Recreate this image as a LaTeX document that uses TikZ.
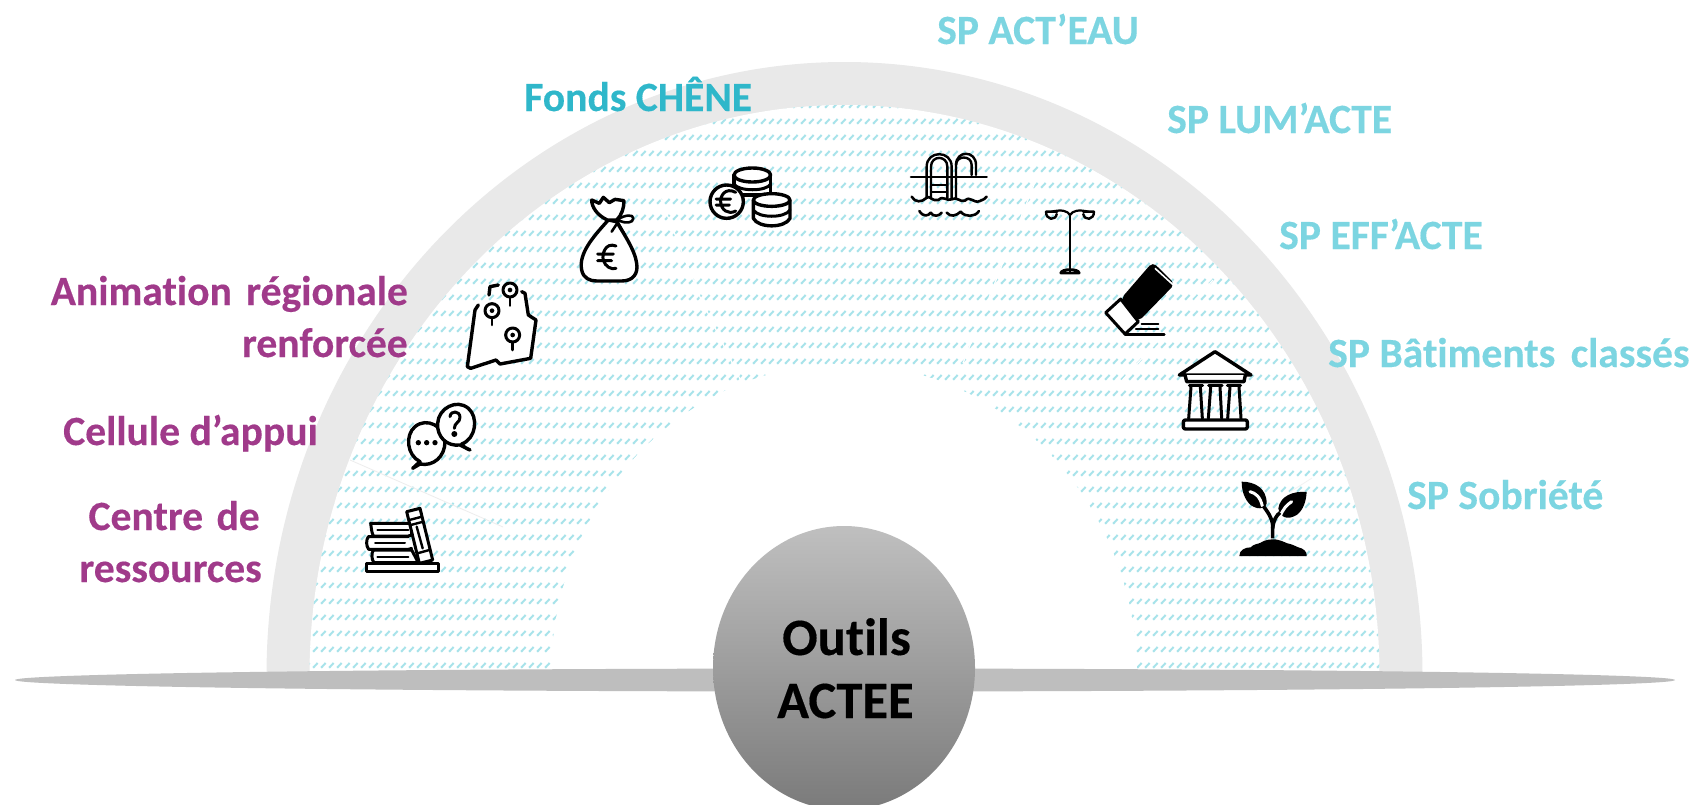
\documentclass[tikz,border=0pt]{standalone}
\usepackage{fontspec}
\setmainfont{Carlito}[Ligatures=NoCommon,BoldFeatures={FakeBold=0.3}]
\usetikzlibrary{patterns}
\definecolor{bandgray}{HTML}{E9E9E9}
\definecolor{groundgray}{HTML}{BEBEBE}
\definecolor{hatchcol}{HTML}{A8E3EA}
\definecolor{purpletxt}{HTML}{A03A8A}
\definecolor{tealtxt}{HTML}{7CD5E1}
\definecolor{tealdark}{HTML}{2FB7CA}
\pgfdeclarepatternformonly{acteehatch}{\pgfqpoint{0pt}{0pt}}{\pgfqpoint{8pt}{16.16pt}}{\pgfqpoint{8pt}{16.16pt}}{%
  \pgfsetlinewidth{2.2pt}%
  \pgfpathmoveto{\pgfqpoint{1.3pt}{7.6pt}}%
  \pgfpathlineto{\pgfqpoint{6.3pt}{12.6pt}}%
  \pgfusepath{stroke}}
\tikzset{
  lbl/.style={anchor=base west,inner sep=0pt,font=\fontsize{41.6}{50}\selectfont\bfseries},
  lblr/.style={anchor=base east,inner sep=0pt,font=\fontsize{41.6}{50}\selectfont\bfseries},
  purp/.style={text=purpletxt},
  teal/.style={text=tealtxt},
  icon/.style={draw=black,fill=white,line width=3.4pt,line join=round,line cap=round},
  thin icon/.style={draw=black,line width=2.6pt,line join=round,line cap=round},
  zoomat/.style={shift={#1},x=0.33333pt,y=-0.33333pt},
}
\begin{document}
\begin{tikzpicture}[x=1pt,y=-1pt]
\clip (0,0) rectangle (1693,804);
\fill[white] (0,0) rectangle (1693,804);
% half rings
\begin{scope}
\clip (0,0) rectangle (1693,678);
\fill[bandgray] (844.5,676) ellipse [x radius=578,y radius=614];
\fill[white] (844.5,676) ellipse [x radius=535,y radius=571];
\fill[pattern=acteehatch,pattern color=hatchcol] (844.5,676) ellipse [x radius=535,y radius=571];
\fill[white] (844,676) ellipse [x radius=293,y radius=312];
% faint sector seams
\draw[white,line width=1.2pt] (660,197) -- (700,297) -- (760,420);
\draw[white,line width=1.2pt] (1047,152) -- (963,363);
\draw[white,line width=1.2pt] (1213,280) -- (1107,397);
\draw[black!7,line width=.8pt] (350,460) -- (503,527);
\draw[black!5,line width=.8pt] (1290,492) -- (1312,478);
\end{scope}
% ground and hub
\fill[groundgray] (845,680) ellipse [x radius=830,y radius=11.5];
\shade[top color=black!25,bottom color=black!52] (844,668) ellipse [x radius=131,y radius=142];
\node[lbl,font=\fontsize{52.5}{60}\selectfont\bfseries] (outils) at (782,655) {Outils};
\node[lbl,font=\fontsize{52.5}{60}\selectfont\bfseries] (actee) at (777,718) {ACTEE};
% labels
\node[lbl,teal] (acteau) at (937,44) {SP ACT’EAU};
\node[lbl,text=tealdark] (chene) at (524,111) {Fonds CHÊNE};
\node[lbl,teal] (lumacte) at (1167,133) {SP LUM’ACTE};
\node[lbl,teal] (effacte) at (1279,249) {SP EFF’ACTE};
\node[lbl,teal] (batim) at (1328,367) {SP Bâtiments\hspace{6pt} classés};
\node[lbl,teal] (sobriete) at (1407,509) {SP Sobriété};
\node[lblr,purp] (anim) at (408,305) {Animation\hspace{5pt} régionale};
\node[lblr,purp] (renf) at (408,357) {renforcée};
\node[lbl,purp] (cellule) at (63,445) {Cellule d’appui};
\node[lblr,purp] (centre) at (260,530) {Centre\hspace{4pt} de};
\node[lblr,purp] (ressources) at (262,582) {ressources};
% books
\begin{scope}[zoomat={(340,490)}]
\draw[icon,line width=3pt] (78,220) rectangle (296,245);
\draw[icon,line width=3pt] (215,100) -- (92,100) .. controls (94,112) and (94,125) .. (100,138) -- (205,138) -- (215,135) -- cycle;
\draw[icon,line width=3pt] (205,140) -- (85,140) .. controls (78,150) and (78,168) .. (86,178) -- (205,178) -- (215,175);
\draw[icon,line width=3pt] (100,180) .. controls (94,190) and (94,208) .. (102,218) -- (235,218) -- (215,180) -- cycle;
\draw[thin icon,line width=2pt] (112,120) -- (205,120) (105,158) -- (195,158) (112,200) -- (205,200);
\draw[icon,line width=3pt] (200,65) -- (240,55) -- (278,210) -- (238,220) -- cycle;
\draw[thin icon,line width=2.4pt] (208,90) -- (246,80) (212,105) -- (250,95) (232,190) -- (268,180) (230,110) -- (248,175);
\end{scope}
% speech bubbles
\begin{scope}[zoomat={(320,140)}]
\draw[icon] (300,965) .. controls (260,945) and (255,885) .. (285,860) .. controls (320,830) and (375,860) .. (375,905) .. controls (375,950) and (340,980) .. (300,972) -- (278,985) .. controls (290,975) and (293,970) .. (300,965) -- cycle;
\fill (295,908) circle (8) (320,908) circle (8) (345,908) circle (8);
\draw[icon] (425,912) .. controls (470,895) and (475,830) .. (445,805) .. controls (410,775) and (355,805) .. (353,850) .. controls (350,890) and (380,920) .. (420,915) -- (450,930) .. controls (437,925) and (430,920) .. (425,912) -- cycle;
\draw[thin icon,line width=3pt] (390,830) .. controls (392,810) and (420,812) .. (420,832) .. controls (420,848) and (403,848) .. (403,865);
\fill (403,882) circle (9);
% map
\draw[icon,fill=white] (475,495) -- (465,510) -- (442,680) -- (452,685) -- (528,660) -- (540,672) -- (632,655) -- (648,540) -- (625,525) -- (615,460) -- (605,455);
\draw[icon,fill=none] (507,465) -- (510,440) -- (535,435);
\draw[icon,line width=3pt] (570,450) circle (21) (516,512) circle (21) (578,585) circle (21);
\draw[thin icon] (570,472) -- (570,497) (516,534) -- (516,555) (578,607) -- (578,630);
\fill (570,450) circle (7) (516,512) circle (7) (578,585) circle (7);
% bag
\draw[icon] (865,240) .. controls (820,290) and (775,340) .. (785,390) .. controls (790,415) and (810,423) .. (830,423) -- (905,423) .. controls (940,423) and (955,400) .. (950,370) .. controls (945,330) and (910,280) .. (890,245) -- cycle;
\draw[icon] (862,240) .. controls (830,225) and (815,200) .. (815,180) -- (838,190) -- (850,172) -- (868,188) -- (885,178) -- (912,182) .. controls (912,205) and (905,225) .. (890,240) -- cycle;
\draw[thin icon,fill=white] (895,237) .. controls (915,225) and (940,222) .. (940,235) .. controls (940,250) and (915,250) .. (900,243);
\draw[thin icon] (898,240) -- (875,275) (895,250) -- (915,285);
\draw[thin icon,line width=3pt] (888,318) .. controls (855,305) and (845,345) .. (850,360) .. controls (855,380) and (875,390) .. (888,385) (833,342) -- (880,342) (833,362) -- (875,362);
\end{scope}
% coins
\begin{scope}[zoomat={(700,150)}]
\draw[icon] (102,75) -- (102,135) -- (212,135) -- (212,75);
\draw[icon] (157,75) ellipse [x radius=55,y radius=21];
\draw[thin icon,line width=3pt] (102,102) .. controls (115,125) and (200,125) .. (212,102);
\draw[icon] (160,150) -- (160,205) .. controls (175,235) and (255,235) .. (270,205) -- (270,150);
\draw[icon] (215,150) ellipse [x radius=55,y radius=19];
\draw[thin icon,line width=3pt] (160,180) .. controls (175,205) and (255,205) .. (270,180);
\draw[icon] (80,155) circle (50);
\draw[thin icon,line width=3pt] (107,127) .. controls (75,110) and (60,140) .. (62,155) .. controls (63,180) and (85,195) .. (107,183) (48,147) -- (92,147) (48,165) -- (88,165);
\end{scope}
% pool, lamp, eraser
\begin{scope}[zoomat={(830,130)}]
\draw[thin icon] (243,141) -- (470,141);
\draw[thin icon,line width=2.4pt] (290,205) -- (290,110) .. controls (290,60) and (365,60) .. (365,110) -- (365,205);
\draw[thin icon,line width=2.4pt] (303,205) -- (303,110) .. controls (303,75) and (352,75) .. (352,110) -- (352,205);
\draw[thin icon,line width=2.4pt] (378,205) -- (378,105) .. controls (378,60) and (438,60) .. (438,105) -- (438,135);
\draw[thin icon,line width=2.4pt] (378,105) .. controls (378,75) and (425,75) .. (425,105) -- (425,135);
\draw[thin icon,line width=2.2pt] (303,165) -- (352,165) (303,185) -- (352,185);
\draw[thin icon] (245,200) .. controls (255,218) and (275,218) .. (290,203) .. controls (300,195) and (305,215) .. (325,210) .. controls (340,195) and (350,215) .. (365,208) .. controls (380,198) and (390,218) .. (405,212) .. controls (420,195) and (430,222) .. (450,213) .. controls (460,210) and (466,205) .. (470,200);
\draw[thin icon] (268,243) .. controls (280,262) and (295,258) .. (302,248) .. controls (310,262) and (328,258) .. (335,248);
\draw[thin icon] (350,248) .. controls (362,262) and (378,258) .. (392,245) .. controls (405,262) and (435,262) .. (447,243);
% lamp
\draw[thin icon] (720,255) -- (720,425);
\draw[thin icon,line width=2.2pt] (665,245) .. controls (695,238) and (712,242) .. (720,255) .. controls (728,242) and (745,238) .. (775,245);
\draw[thin icon,line width=2.4pt] (648,245) -- (682,245) (648,245) .. controls (648,272) and (678,272) .. (680,252);
\draw[thin icon,line width=2.4pt] (760,245) -- (792,245) (760,252) .. controls (762,272) and (792,272) .. (792,245);
\draw[thin icon] (692,429) -- (748,429) (692,429) .. controls (695,415) and (745,415) .. (748,429);
% eraser
\draw[icon,line width=3pt] (872,507) -- (827,548) -- (885,612) -- (925,575) -- cycle;
\fill[rounded corners=5pt] (968,396) -- (1035,462) -- (925,575) -- (872,507) -- cycle;
\draw[white,line width=1.6pt] (975,415) -- (1030,465);
\draw[thin icon,line width=2.2pt] (935,582) -- (985,582) (918,598) -- (985,598);
\draw[thin icon,line width=2.4pt] (885,613) -- (1003,613);
\end{scope}
% temple
\begin{scope}[zoomat={(1170,340)}]
\draw[icon] (28,105) -- (135,35) -- (243,105) -- cycle;
\draw[icon] (45,105) -- (50,125) -- (222,125) -- (226,105);
\draw[thin icon,line width=3pt] (58,135) -- (98,135) (116,135) -- (156,135) (172,135) -- (212,135);
\draw[thin icon,line width=3pt] (63,140) -- (56,235) (91,140) -- (97,235) (122,140) -- (115,235) (150,140) -- (155,235) (180,140) -- (173,235) (207,140) -- (213,235);
\draw[icon,rounded corners=2pt] (40,240) rectangle (232,267);
\end{scope}
% plant
\begin{scope}[zoomat={(1230,470)}]
\fill (35,35) .. controls (75,35) and (110,55) .. (110,100) .. controls (105,120) and (80,118) .. (62,105) .. controls (45,90) and (35,65) .. (35,35) -- cycle;
\fill (230,66) .. controls (190,62) and (150,78) .. (145,115) .. controls (150,145) and (175,150) .. (200,135) .. controls (220,120) and (228,95) .. (230,66) -- cycle;
\draw[white,line width=3pt,line cap=round] (60,65) .. controls (78,70) and (90,80) .. (97,108);
\draw[white,line width=3pt,line cap=round] (185,95) .. controls (170,105) and (160,115) .. (150,140);
\draw[black,line width=3.6pt] (128,205) -- (128,165) .. controls (125,140) and (112,125) .. (100,108);
\draw[black,line width=3.6pt] (128,175) .. controls (130,150) and (140,135) .. (150,128);
\fill (28,258) .. controls (28,240) and (45,232) .. (62,232) .. controls (70,222) and (85,222) .. (92,218) .. controls (105,208) and (125,208) .. (135,208) .. controls (150,210) and (160,215) .. (172,220) .. controls (185,222) and (195,228) .. (205,232) .. controls (220,235) and (232,245) .. (230,258) -- cycle;
\end{scope}
\end{tikzpicture}
\end{document}
